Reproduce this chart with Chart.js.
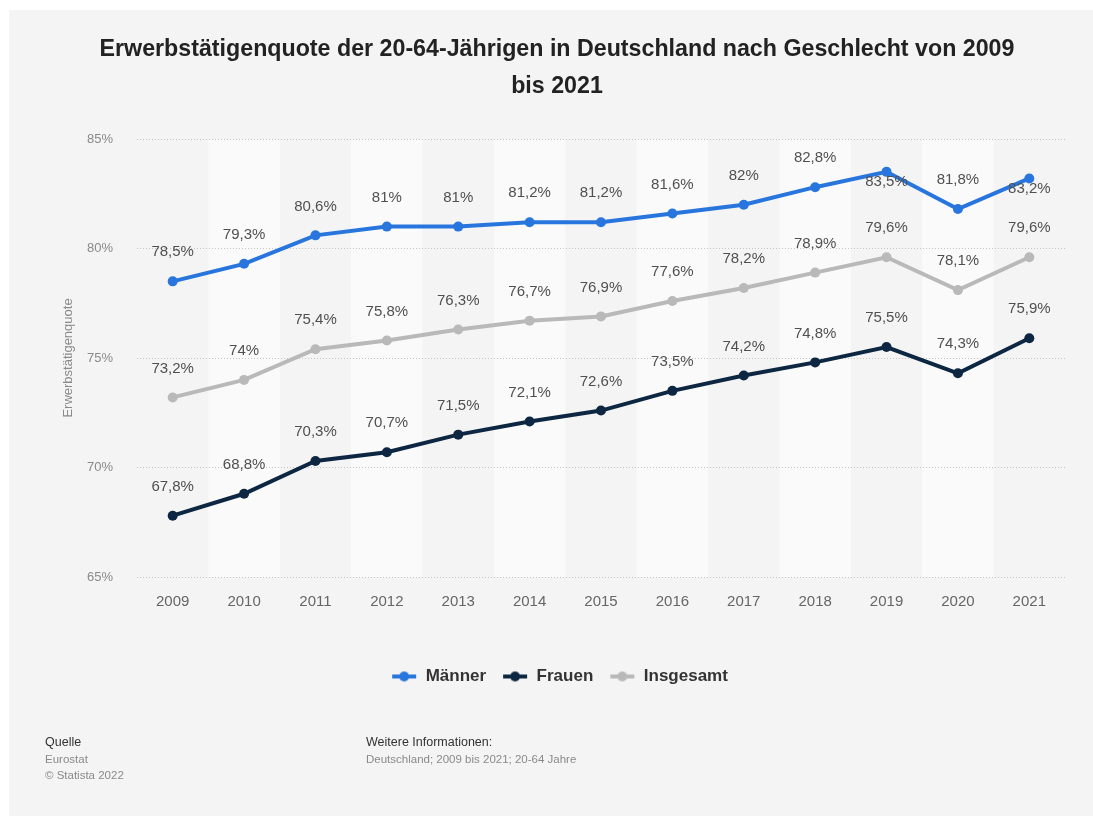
<!DOCTYPE html>
<html>
<head>
<meta charset="utf-8">
<script src="https://cdn.jsdelivr.net/npm/chart.js@4/dist/chart.umd.min.js"></script>
<style>
  html, body { margin: 0; padding: 0; background: #ffffff; }
  #wrap { position: relative; width: 1093px; height: 816px; overflow: hidden; }
  #c { position: absolute; left: 0; top: 0; }
  .ft { position: absolute; font-family: "Liberation Sans", Arial, sans-serif; font-size: 12.5px; white-space: nowrap; }
  .dark { color: #333333; }
  .gray { color: #8a8a8a; font-size: 11.5px; }
</style>
</head>
<body>
<div id="wrap">
  <canvas id="c" width="1093" height="816"></canvas>
  <div class="ft dark" style="left:45px; top:735px;">Quelle</div>
  <div class="ft gray" style="left:45px; top:753px;">Eurostat</div>
  <div class="ft gray" style="left:45px; top:769px;">© Statista 2022</div>
  <div class="ft dark" style="left:366px; top:735px;">Weitere Informationen:</div>
  <div class="ft gray" style="left:366px; top:753px;">Deutschland; 2009 bis 2021; 20-64 Jahre</div>
</div>
<script>
// ---- Data ----
const years = ['2009','2010','2011','2012','2013','2014','2015','2016','2017','2018','2019','2020','2021'];
const maenner   = [78.5, 79.3, 80.6, 81.0, 81.0, 81.2, 81.2, 81.6, 82.0, 82.8, 83.5, 81.8, 83.2];
const frauen    = [67.8, 68.8, 70.3, 70.7, 71.5, 72.1, 72.6, 73.5, 74.2, 74.8, 75.5, 74.3, 75.9];
const insgesamt = [73.2, 74.0, 75.4, 75.8, 76.3, 76.7, 76.9, 77.6, 78.2, 78.9, 79.6, 78.1, 79.6];
const seriesNames = ['Männer', 'Frauen', 'Insgesamt'];
const yTicks = [65, 70, 75, 80, 85];
const titleLines = ['Erwerbstätigenquote der 20-64-Jährigen in Deutschland nach Geschlecht von 2009', 'bis 2021'];

const colors = ['#2876dd', '#0d2742', '#b9b9b9'];
const FONT = '"Liberation Sans", Arial, Helvetica, sans-serif';

function legendIcon(color) {
  const cv = document.createElement('canvas');
  cv.width = 26; cv.height = 12;
  const x = cv.getContext('2d');
  x.strokeStyle = color; x.lineWidth = 4;
  x.beginPath(); x.moveTo(1, 6); x.lineTo(25, 6); x.stroke();
  x.fillStyle = color;
  x.beginPath(); x.arc(13, 6, 5, 0, Math.PI * 2); x.fill();
  return cv;
}
const icons = colors.map(legendIcon);

const fmt = v => String(v).replace('.', ',') + '%';

const bgPlugin = {
  id: 'bg',
  beforeDraw(chart) {
    const ctx = chart.ctx;
    const a = chart.chartArea;
    const xs = chart.scales.x;
    ctx.save();
    ctx.fillStyle = '#ffffff';
    ctx.fillRect(0, 0, chart.width, chart.height);
    ctx.fillStyle = '#f4f4f4';
    ctx.fillRect(9, 10, chart.width - 9, chart.height - 10);
    const step = xs.getPixelForValue(1) - xs.getPixelForValue(0);
    ctx.fillStyle = '#fafafa';
    for (let i = 1; i < years.length; i += 2) {
      const cx = xs.getPixelForValue(i);
      ctx.fillRect(cx - step / 2, a.top, step, a.bottom - a.top);
    }
    // title
    ctx.fillStyle = '#222222';
    ctx.textAlign = 'center';
    ctx.textBaseline = 'middle';
    ctx.font = 'bold 20px ' + FONT;
    const w = ctx.measureText(titleLines[0]).width;
    const fs = 20 * 915 / w;
    ctx.font = 'bold ' + fs.toFixed(2) + 'px ' + FONT;
    ctx.fillText(titleLines[0], 557, 50);
    ctx.fillText(titleLines[1], 557, 87);
    ctx.restore();
  }
};

const labelPlugin = {
  id: 'vlabels',
  afterDatasetsDraw(chart) {
    const ctx = chart.ctx;
    const a = chart.chartArea;
    ctx.save();
    ctx.font = '15px ' + FONT;
    ctx.fillStyle = '#505050';
    ctx.textAlign = 'center';
    ctx.textBaseline = 'middle';
    chart.data.datasets.forEach((ds, di) => {
      const meta = chart.getDatasetMeta(di);
      meta.data.forEach((pt, i) => {
        let y = pt.y - 29;
        if (y < a.top + 15) y = pt.y + 10;
        ctx.fillText(fmt(ds.data[i]), pt.x, y);
      });
    });
    ctx.restore();
  }
};

function mkDs(label, data, color) {
  return {
    label, data,
    borderColor: color, backgroundColor: color,
    pointBackgroundColor: color, pointBorderColor: color,
    borderWidth: 4, pointRadius: 5, pointBorderWidth: 0,
    tension: 0, fill: false
  };
}

new Chart(document.getElementById('c'), {
  type: 'line',
  data: {
    labels: years,
    datasets: [
      mkDs(seriesNames[0], maenner, colors[0]),
      mkDs(seriesNames[1], frauen, colors[1]),
      mkDs(seriesNames[2], insgesamt, colors[2])
    ]
  },
  options: {
    responsive: false,
    animation: false,
    devicePixelRatio: 1,
    layout: { padding: { top: 139, left: 54, right: 28, bottom: 121 } },
    plugins: {
      legend: {
        position: 'bottom',
        labels: {
          usePointStyle: true,
          pointStyleWidth: 26,
          boxHeight: 12,
          padding: 16,
          color: '#333333',
          font: { family: FONT, size: 17, weight: 'bold' },
          generateLabels(chart) {
            const items = Chart.defaults.plugins.legend.labels.generateLabels(chart);
            items.forEach((it, i) => { it.pointStyle = icons[i]; });
            return items;
          }
        }
      },
      tooltip: { enabled: false },
      title: { display: false }
    },
    scales: {
      x: {
        offset: true,
        grid: { display: false, drawTicks: false },
        border: { display: false },
        ticks: { color: '#666666', font: { family: FONT, size: 15 }, padding: 16, maxRotation: 0 },
        afterFit(s) { s.height = 75; }
      },
      y: {
        min: 65, max: 85,
        afterBuildTicks(s) { s.ticks = yTicks.map(v => ({ value: v })); },
        grid: { color: '#c4c4c4', lineWidth: 1, drawTicks: false },
        border: { display: false, dash: [1, 2] },
        ticks: { color: '#8a8a8a', font: { family: FONT, size: 13 }, padding: 24, callback: v => v + '%' },
        title: { display: true, text: 'Erwerbstätigenquote', color: '#8a8a8a', font: { family: FONT, size: 13 }, padding: { top: 7, bottom: 0 } },
        afterFit(s) { s.width = 83; }
      }
    }
  },
  plugins: [bgPlugin, labelPlugin]
});
</script>
</body>
</html>
